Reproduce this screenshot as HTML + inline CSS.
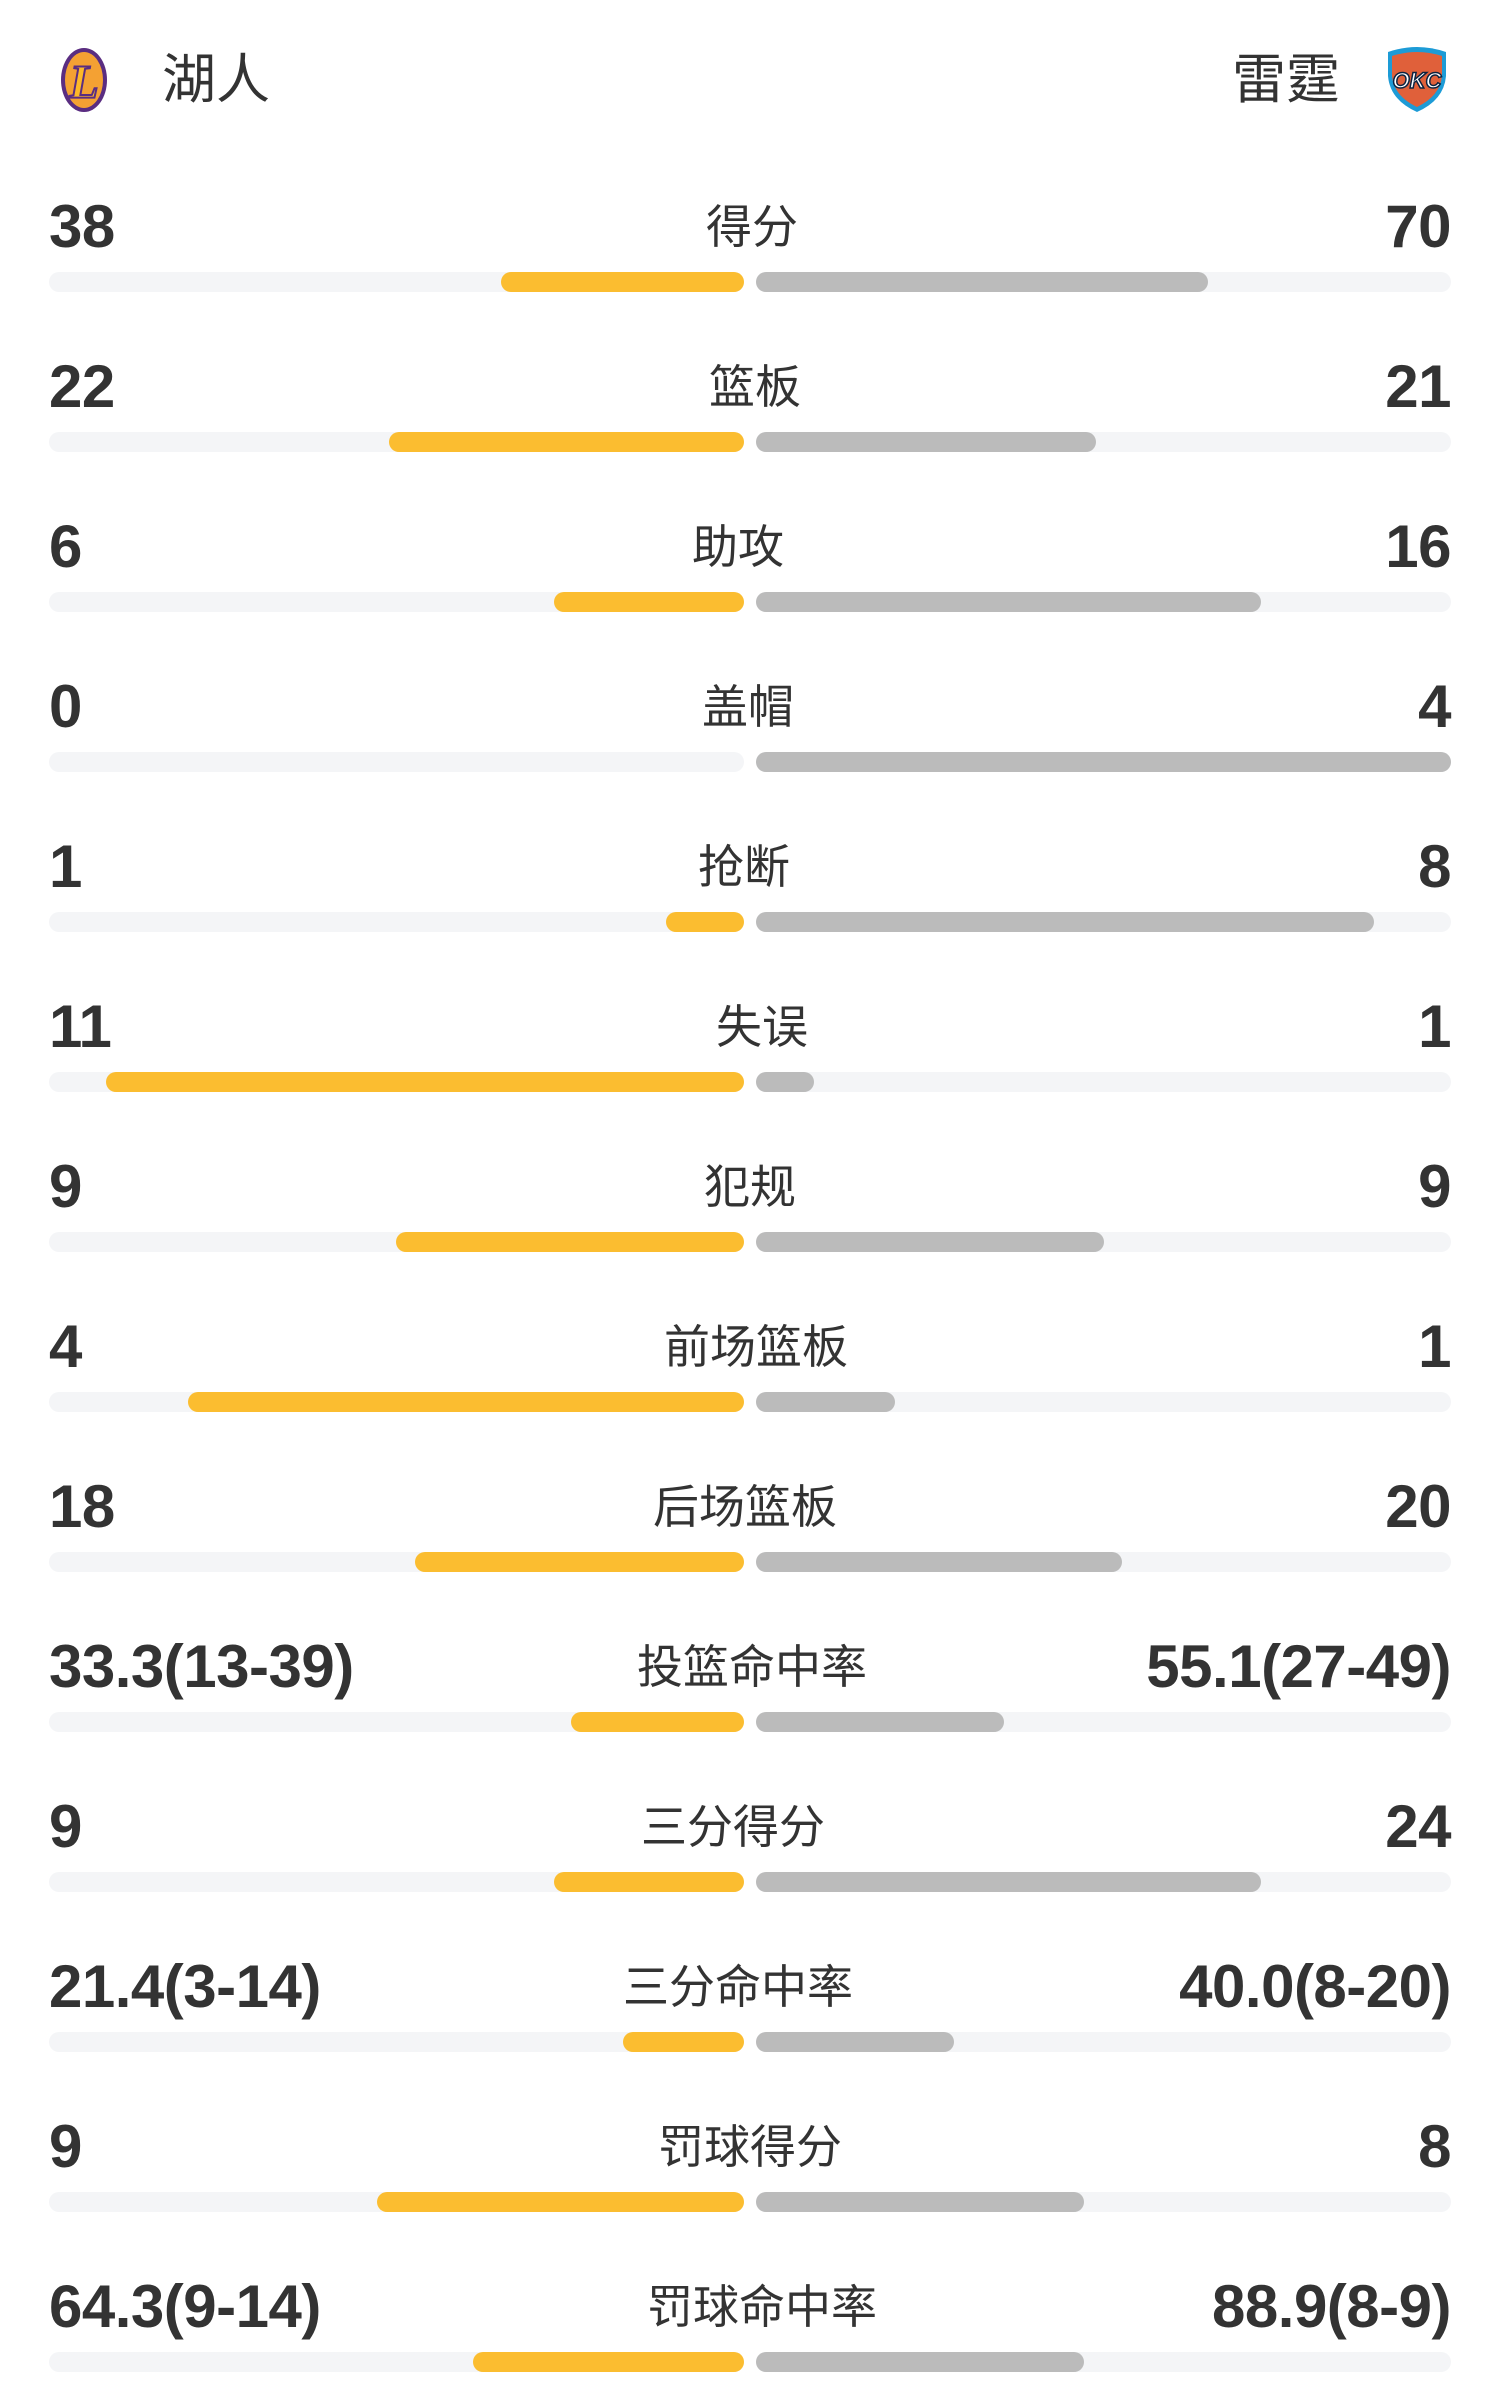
<!DOCTYPE html>
<html><head><meta charset="utf-8"><style>
html,body{margin:0;padding:0;background:#fff;}
body{width:1500px;height:2400px;position:relative;overflow:hidden;font-family:"Liberation Sans","Noto Sans CJK SC",sans-serif;color:#333;}
.n{position:absolute;font-weight:bold;font-size:60px;line-height:60px;letter-spacing:-0.5px;color:#333;}
.l{left:49px}
.r{right:49px;text-align:right}
.lab{position:absolute;font-size:46px;line-height:60px;transform:translateX(-50%);white-space:nowrap;color:#333;}
.t{position:absolute;height:20px;border-radius:10px;background:#f4f5f7;width:695px;}
.o{position:absolute;height:20px;border-radius:10px;background:#fbbd30;}
.g{position:absolute;height:20px;border-radius:10px;background:#bbbbbb;}
.team{position:absolute;font-size:54px;line-height:60px;top:50px;}
</style></head><body>
<svg style="position:absolute;left:50px;top:46px" width="68" height="68" viewBox="0 0 68 68">
<ellipse cx="34" cy="34" rx="23" ry="32" fill="#5a2d81"/>
<ellipse cx="34" cy="34" rx="19" ry="28" fill="#f4a133"/>
<text x="34" y="52" font-family="Liberation Serif" font-style="italic" font-weight="bold" font-size="48" fill="#fdb927" stroke="#5a2d81" stroke-width="2" text-anchor="middle">L</text>
</svg>
<div class="team" style="left:162px">湖人</div>
<div class="team" style="left:1232px">雷霆</div>
<svg style="position:absolute;left:1384px;top:46px" width="66" height="68" viewBox="0 0 66 68">
<path d="M4 6 Q33 -4 62 6 L62 30 Q60 54 33 66 Q6 54 4 30 Z" fill="#1d9bd6"/>
<path d="M8 10 Q33 2 58 10 L58 30 Q56 50 33 61 Q10 50 8 30 Z" fill="#e0603a"/>
<text x="33" y="42" font-family="Liberation Sans" font-style="italic" font-weight="bold" font-size="22" fill="#fff" stroke="#0c2340" stroke-width="1.5" text-anchor="middle">OKC</text>
</svg>
<div id="rows"></div>
<script>
var d=[["38","得分","70",327,789,491],["22","篮板","21",254,716,493],["6","助攻","16",362,824,482],["0","盖帽","4",null,948,489],["1","抢断","8",435,898,486],["11","失误","1",69,532,498],["9","犯规","9",259,721,490],["4","前场篮板","1",123,585,494],["18","后场篮板","20",271,733,487],["33.3(13-39)","投篮命中率","55.1(27-49)",373,656,491],["9","三分得分","24",362,824,479],["21.4(3-14)","三分命中率","40.0(8-20)",407,623,482],["9","罚球得分","8",246,708,490],["64.3(9-14)","罚球命中率","88.9(8-9)",309,708,498]];
var k=1.5306,h="";
d.forEach(function(r,i){
var y=225+i*160,b=272+i*160;
h+='<div class="n l" style="top:'+(y-28)+'px">'+r[0]+'</div>';
h+='<div class="n r" style="top:'+(y-28)+'px">'+r[2]+'</div>';
h+='<div class="lab" style="left:'+Math.round(r[5]*k)+'px;top:'+(y-28)+'px">'+r[1]+'</div>';
h+='<div class="t" style="left:49px;top:'+b+'px"></div><div class="t" style="left:756px;top:'+b+'px"></div>';
if(r[3]!==null){var s=Math.round(r[3]*k);h+='<div class="o" style="left:'+s+'px;width:'+(744-s)+'px;top:'+b+'px"></div>';}
var e=Math.min(1451,Math.round(r[4]*k));h+='<div class="g" style="left:756px;width:'+(e-756)+'px;top:'+b+'px"></div>';
});
document.getElementById('rows').innerHTML=h;
</script>
</body></html>
